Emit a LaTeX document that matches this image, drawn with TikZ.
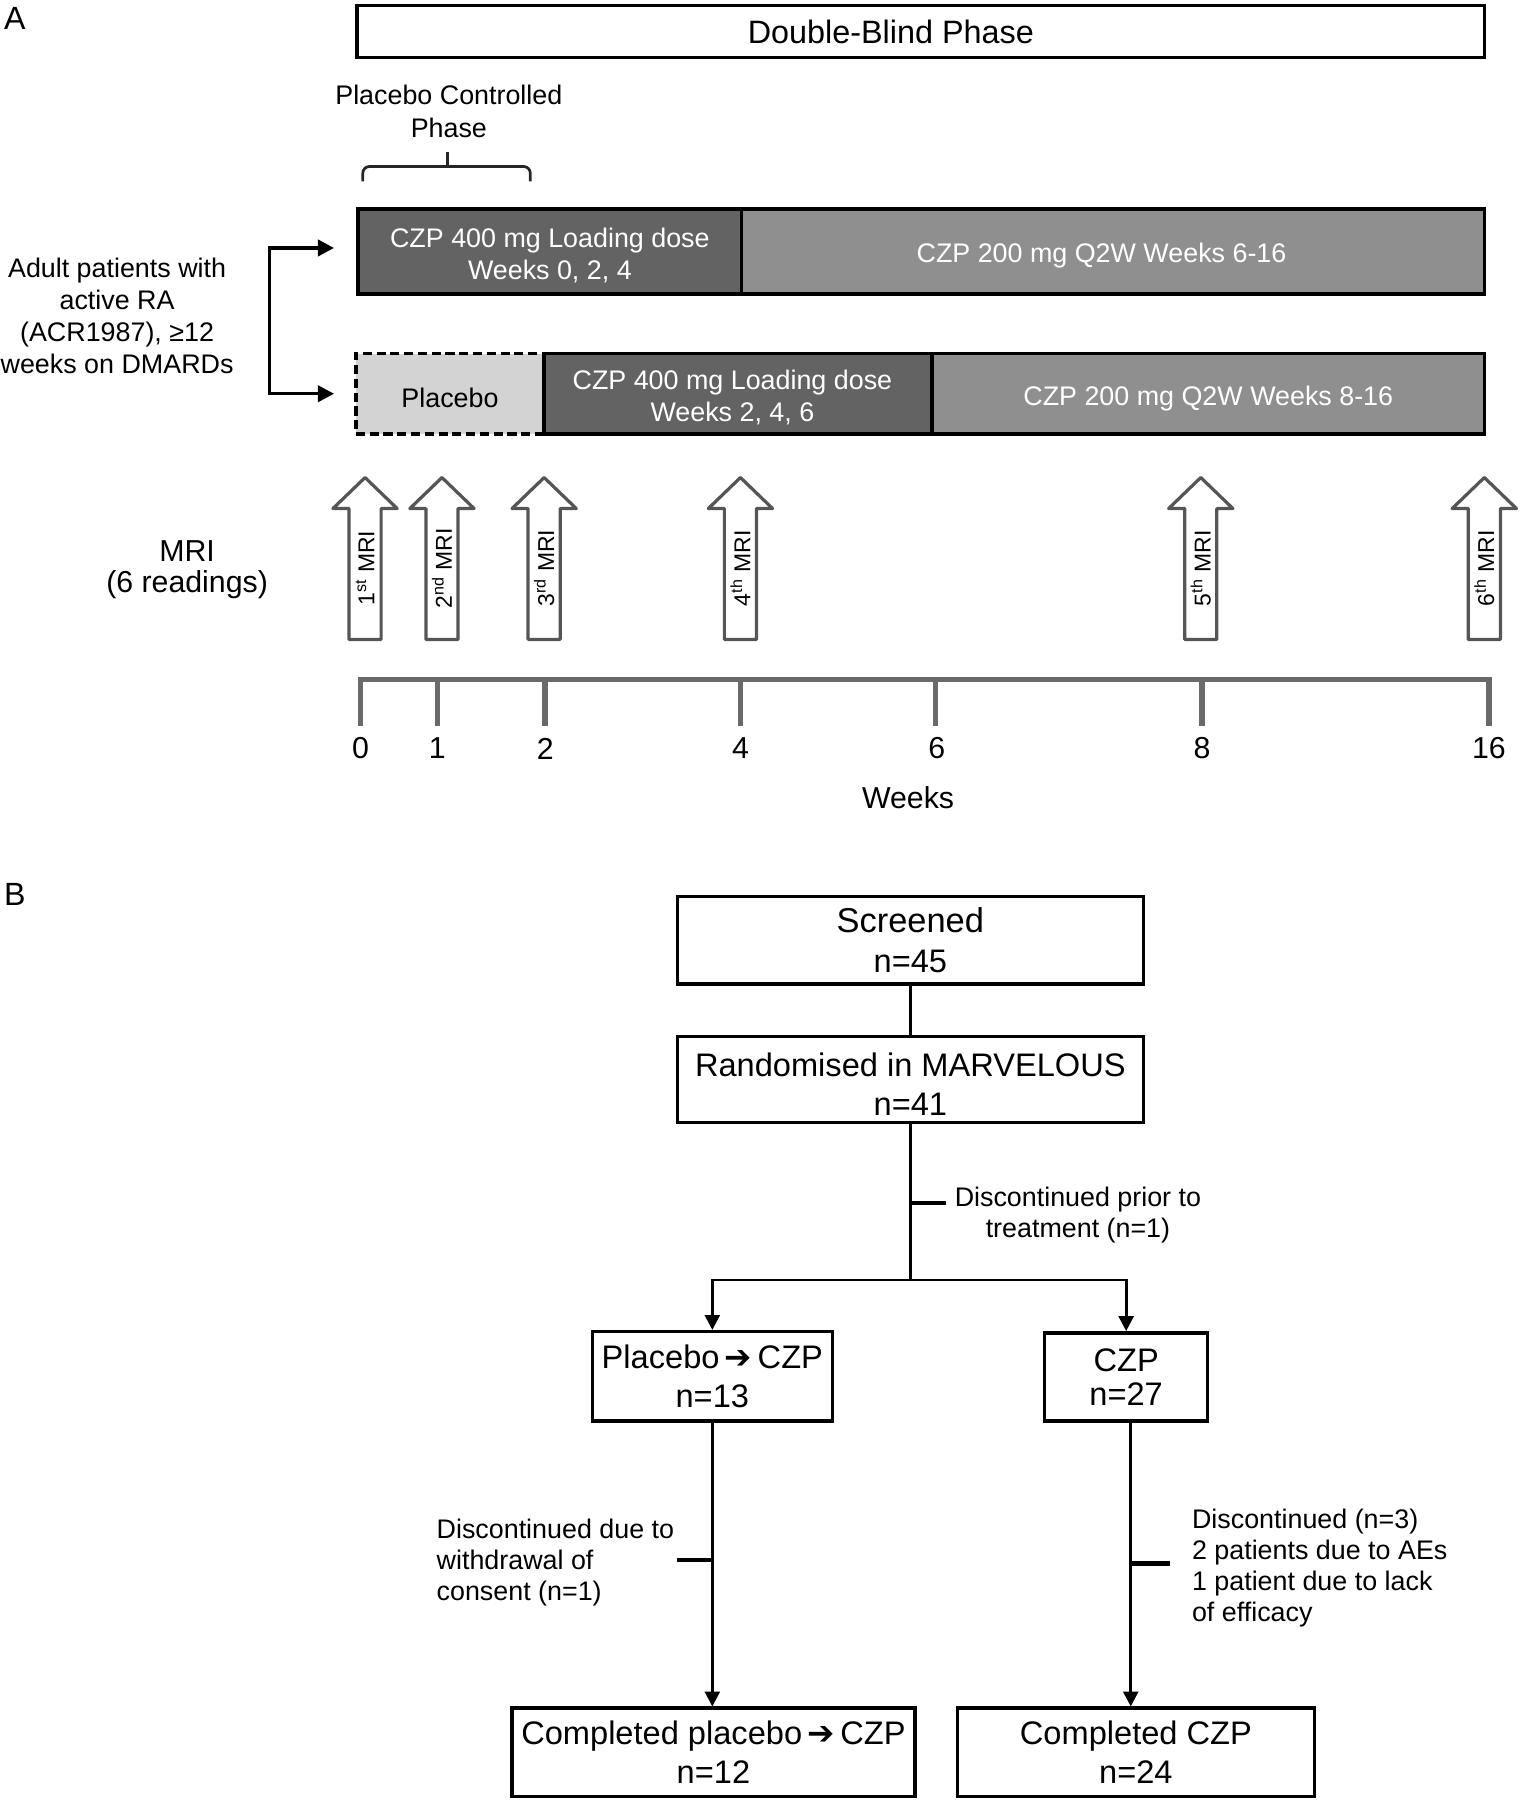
\documentclass[tikz,border=0pt]{standalone}
\usepackage{fontspec}
\setmainfont{Liberation Sans}
\newfontfamily\symfont{DejaVu Sans}
\usetikzlibrary{arrows.meta}
\definecolor{darkseg}{HTML}{636363}
\definecolor{lightseg}{HTML}{8F8F8F}
\definecolor{placeboseg}{HTML}{D3D3D3}
\definecolor{mrigray}{HTML}{555555}
\definecolor{axisgray}{HTML}{6A6A6A}
\newcommand\fA{\fontsize{11.7pt}{14pt}\selectfont}
\newcommand\fAB{\fontsize{11.7pt}{13.5pt}\selectfont}
\newcommand\fB{\fontsize{13.2pt}{13.5pt}\selectfont}
\newcommand\fC{\fontsize{14.2pt}{17pt}\selectfont}
\newcommand\fMRI{\fontsize{10pt}{12pt}\selectfont}
\newcommand\rarr{\,{\symfont ➔}\,}
\begin{document}
\begin{tikzpicture}[x=0.5pt,y=-0.5pt,
  barseg/.style={draw=black, line width=1.5pt, inner sep=0pt, align=center, font=\fA},
  fbox/.style={draw=black, line width=1.5pt, inner sep=0pt, align=center, font=\fC},
  flow/.style={line width=1.2pt},
  arr/.style={line width=1.2pt, -{Triangle[length=6.5pt,width=6.5pt]}},
  tickln/.style={line width=1.8pt},
  note/.style={font=\fAB, align=left, inner sep=0pt},
  mriarrow/.style={draw=mrigray, line width=1.4pt, fill=white, line join=round},
  axisln/.style={draw=axisgray, line width=2.5pt}]
\useasboundingbox (0,0) rectangle (1324,1568);

% ---------- Panel A ----------
\node[font=\fontsize{14pt}{16pt}\selectfont] (labA) at (13,16) {A};
\node[draw=black, line width=1.5pt, minimum width=491pt, minimum height=22.5pt, inner sep=0pt] (db) at (802,27.5) {};
\node[font=\fontsize{14.1pt}{16pt}\selectfont] (dbt) at (776,28) {Double-Blind Phase};

\node[font=\fA, align=center] (pcp) at (391,97) {Placebo Controlled\\Phase};
\draw[line width=1.2pt, draw=black!85, rounded corners=3pt] (316,158) -- (316,145) -- (462,145) -- (462,158);
\draw[line width=1.2pt, draw=black!85] (390,145) -- (390,132);

% Row 1
\node[barseg, fill=lightseg, text=white, text height=12.3pt, minimum width=323.5pt, minimum height=37pt] (r1b) at (969.5,219) {CZP 200 mg Q2W Weeks 6-16\hspace*{10pt}};
\node[barseg, fill=darkseg, text=white, text height=25.8pt, minimum width=167pt, minimum height=37pt] (r1a) at (479,219) {CZP 400 mg Loading dose\\Weeks 0, 2, 4};
% Row 2
\node[barseg, fill=placeboseg, text height=12.3pt, dash pattern=on 4pt off 2pt, minimum width=82pt, minimum height=35pt] (r2p) at (392,343) {Placebo};
\node[barseg, fill=lightseg, text=white, text height=12.3pt, minimum width=240.5pt, minimum height=35pt] (r2b) at (1052.5,343) {CZP 200 mg Q2W Weeks 8-16};
\node[barseg, fill=darkseg, text=white, text height=25.8pt, minimum width=169pt, minimum height=35pt] (r2a) at (643,343) {CZP 400 mg Loading dose\hspace*{5pt}\\Weeks 2, 4, 6\hspace*{5pt}};

% Patients text and split arrows
\node[font=\fA, align=center] (pat) at (102,275) {Adult patients with\\active RA\\(ACR1987), ≥12\\weeks on DMARDs};
\coordinate (cj) at (235,279);
\coordinate (a1) at (291,216);
\coordinate (a2) at (291,343);
\draw[line width=1.5pt, -{Triangle[length=7pt,width=7pt]}] (cj) |- (a1);
\draw[line width=1.5pt, -{Triangle[length=7pt,width=7pt]}] (cj) |- (a2);

% MRI label
\node[font=\fB, align=center] (mri) at (163,496) {MRI\\(6 readings)};

% MRI arrows
\foreach \cx/\lab/\nm in {318/1\textsuperscript{st}/m1, 385/2\textsuperscript{nd}/m2, 474/3\textsuperscript{rd}/m3, 645/4\textsuperscript{th}/m4, 1046/5\textsuperscript{th}/m5, 1293/6\textsuperscript{th}/m6}{
  \draw[mriarrow] (\cx,416) -- (\cx+28,443) -- (\cx+14,443) -- (\cx+14,557) -- (\cx-14,557) -- (\cx-14,443) -- (\cx-28,443) -- cycle;
  \node[font=\fMRI, rotate=90, inner sep=0pt] (\nm) at (\cx,495) {\lab\ MRI};
}

% Time axis
\draw[axisln] (314,632) -- (314,592) -- (1297,592) -- (1297,632);
\foreach \tx in {381,475,645,815,1047}{
  \draw[axisln] (\tx,592) -- (\tx,632);
}
\foreach \tx/\tl in {314/0,381/1,475/2,645/4,816/6,1047/8,1297/16}{
  \node[font=\fB] (w\tl) at (\tx,652) {\tl};
}
\node[font=\fB] (weeks) at (791,695) {Weeks};

% ---------- Panel B ----------
\node[font=\fontsize{14pt}{16pt}\selectfont] (labB) at (13,779) {B};

\node[fbox, minimum width=203pt, minimum height=38pt] (scr) at (793,819) {{\fontsize{15pt}{17pt}\selectfont Screened}\\n=45};
\node[fbox, minimum width=203pt, minimum height=37.5pt, text height=31pt] (rnd) at (793,940.5) {Randomised in MARVELOUS\\n=41};
\node[fbox, minimum width=104.5pt, minimum height=39pt] (pc) at (620.5,1199) {Placebo\rarr CZP\\n=13};
\node[fbox, minimum width=71pt, minimum height=38.5pt] (czp) at (981,1199.5) {CZP\\[-2pt]n=27};
\node[fbox, minimum width=175.5pt, minimum height=38.5pt] (cpc) at (621.5,1526.5) {Completed placebo\rarr CZP\\n=12};
\node[fbox, minimum width=155.5pt, minimum height=38.5pt] (cczp) at (989.5,1526.5) {Completed CZP\\n=24};

\draw[flow] (scr.south) -- (rnd.north);
\coordinate (j) at (793,1115);
\draw[arr] (rnd.south) -- (j) -| (pc.north);
\draw[arr] (rnd.south) -- (j) -| (czp.north);

\coordinate (t1) at (793,1048);
\coordinate (t1e) at (824,1048);
\draw[tickln] (t1) -- (t1e);
\node[font=\fAB, align=center] (d1) at (939,1058) {Discontinued prior to\\treatment (n=1)};

\draw[arr] (pc.south) -- (pc.south |- cpc.north);
\coordinate (t2) at (621,1359);
\coordinate (t2e) at (590,1359);
\draw[tickln] (t2) -- (t2e);
\node[note, anchor=west] (d2) at (380,1361) {Discontinued due to\\withdrawal of\\consent (n=1)};

\draw[arr] ([xshift=2pt]czp.south) -- ([xshift=2pt]czp.south |- cczp.north);
\coordinate (t3) at (985,1362);
\coordinate (t3e) at (1019,1362);
\draw[tickln] (t3) -- (t3e);
\node[note, anchor=west] (d3) at (1038,1366) {Discontinued (n=3)\\2 patients due to AEs\\1 patient due to lack\\of efficacy};

\end{tikzpicture}
\end{document}
